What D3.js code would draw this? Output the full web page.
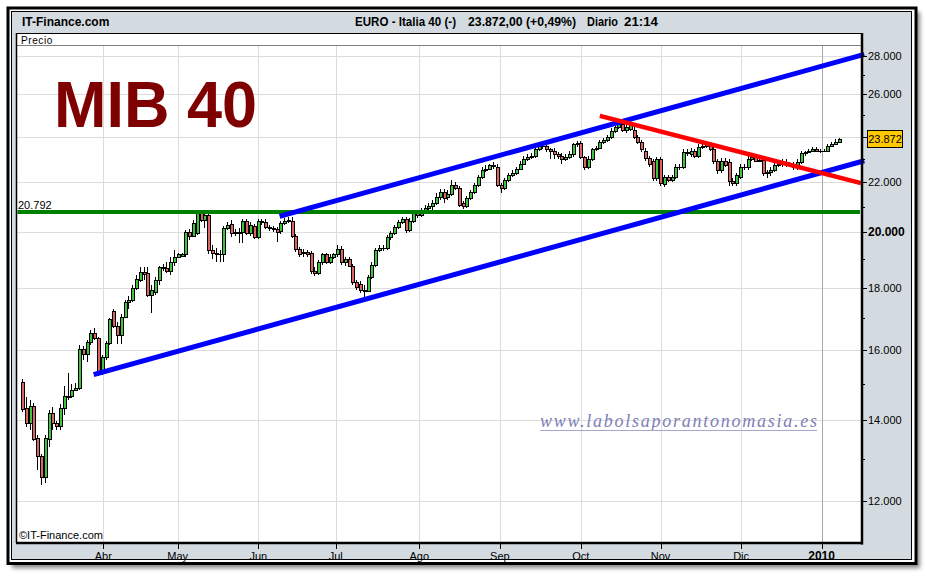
<!DOCTYPE html>
<html><head><meta charset="utf-8">
<script src="https://cdn.jsdelivr.net/npm/d3@7"></script>
<style>html,body{margin:0;padding:0;background:#fff;}svg{display:block;font-family:Arial,"Liberation Sans",sans-serif;}</style>
</head><body><svg id="c" width="926" height="576"></svg>
<script>
// ---------------- DATA ----------------
const opens = [15060,14320,13930,14380,13540,13060,12550,13490,14180,13910,
13830,14320,14660,14660,14830,14890,16010,15860,16230,16530,
16360,15350,15780,16200,17210,16750,16460,17040,17530,17600,
17980,18270,18560,18520,17760,17850,18270,18710,18700,18600,
18890,19100,19140,19180,20010,19860,19970,20770,20490,20690,
19360,19250,19210,19180,20170,20330,19970,20010,20000,20450,
19970,20250,19830,20450,20410,20210,20170,20130,20050,20370,
20450,20450,19860,19390,19250,19280,19250,18600,18520,18890,
19180,18920,19100,19180,19390,18890,19000,18780,18200,18130,
17920,17900,18380,18810,19360,19430,19420,19830,19970,20210,
20410,20530,20090,20450,20770,20690,20810,20970,21050,21170,
21410,21610,21410,21530,21890,21770,21170,21050,21370,21610,
21890,22230,22540,22580,22720,22670,21890,21770,22100,22320,
22410,22580,22800,22980,23070,23110,23420,23590,23570,23420,
23370,23200,23150,22980,23070,23200,23640,23720,23070,22670,
22980,23420,23500,23770,23860,23990,24270,24460,24560,24320,
24370,24320,23990,23770,23370,23020,22890,22190,22980,21930,
22230,22100,22230,22630,22670,23290,23200,23370,23110,23550,
23590,23680,23460,22890,22500,22930,22850,22060,21970,22230,
22670,22650,22980,23070,22930,22950,22410,22450,22540,22720,
22760,22850,22760,22720,22630,22850,23240,23290,23370,23460,
23370,23330,23360,23590,23680,23756];
const highs = [15120,14630,14550,14460,13610,13110,13610,14260,14350,13980,
14430,14920,15320,14980,15010,16140,16100,16300,16620,16660,
16400,15830,16270,17010,17300,16880,17110,17600,17720,18090,
18450,18710,18710,18740,18090,18380,18780,18850,18890,19070,
19360,19250,19250,20090,20130,20490,20850,20850,20770,20770,
19540,19430,19360,20250,20410,20490,20130,20170,20530,20530,
20410,20330,20530,20530,20530,20290,20250,20210,20450,20570,
20610,20610,19940,19470,19390,19360,19320,18710,18960,19250,
19250,19180,19250,19540,19500,19070,19070,18850,18270,18240,
18090,18450,18920,19430,19540,19540,19900,20050,20290,20490,
20610,20610,20570,20850,20890,20970,21090,21170,21290,21570,
21730,21730,21690,22100,22010,21850,21250,21450,21690,21970,
22320,22630,22720,22800,22850,22760,21970,22190,22410,22500,
22670,22890,23110,23200,23240,23500,23720,23720,23680,23500,
23500,23290,23240,23200,23330,23720,23810,23810,23150,23110,
23500,23590,23860,23940,24080,24410,24600,24700,24700,24600,
24650,24510,24080,23860,23500,23110,22980,23070,23070,22320,
22320,22320,22760,22800,23420,23460,23500,23460,23640,23680,
23810,23770,23550,22980,23020,23020,22980,22190,22410,22760,
22800,23110,23200,23150,23110,23110,22540,22630,22850,22850,
22980,22980,22850,22850,22980,23370,23370,23460,23550,23550,
23460,23460,23680,23770,23900,23950];
const lows = [14210,13810,13730,13440,12740,12370,12420,13310,13730,13730,
13730,14120,14550,14610,14780,14830,15690,15630,16140,16300,
15210,15260,15690,16140,16660,16170,16170,16980,17300,17530,
17920,18200,18270,17690,17170,17760,18090,18600,18520,18450,
18780,19070,19070,19070,19720,19830,19900,20410,20170,19180,
19000,18920,18920,18920,20090,19830,19860,19610,19610,19900,
19860,19750,19750,20290,20130,20050,20010,19650,19940,20290,
20370,19790,19280,19070,19070,19100,18490,18420,18450,18810,
18850,18850,19030,19100,18810,18780,18710,18090,17920,17820,
17690,17850,18310,18740,19280,19320,19360,19720,19900,20130,
20330,19970,20010,20370,20570,20610,20730,20810,20890,21090,
21290,21170,21290,21450,21690,21010,20930,20970,21290,21530,
21810,22150,22450,22540,22580,21810,21570,21690,22010,22230,
22320,22500,22720,22890,22980,23020,23330,23460,23290,22980,
22980,22980,22800,22890,22980,23070,23550,22980,22540,22580,
22890,23330,23420,23680,23770,23900,24180,24370,24220,24180,
24270,23900,23640,23290,22930,22630,22060,22060,21850,21810,
22010,22010,22150,22540,22580,23150,23070,23020,23020,23460,
23500,23370,22760,22360,22410,22630,21850,21850,21850,22150,
22540,22540,22890,22850,22850,22280,22190,22280,22450,22630,
22670,22670,22630,22500,22540,22760,23150,23240,23330,23290,
23240,23290,23290,23550,23640,23770];
const closes = [14290,13930,14380,13490,13060,12550,13540,14180,13910,13830,
14320,14660,14630,14830,14890,16010,15860,16230,16530,16360,
15350,15780,16200,16950,16750,16460,17040,17530,17600,17980,
18310,18560,18490,17760,17920,18270,18710,18690,18600,18890,
19100,19180,19180,20010,19860,20370,20770,20490,20690,19360,
19250,19210,19180,20170,20290,19970,20010,19990,20450,19970,
20290,19830,20450,20410,20210,20170,20130,20010,20370,20450,
20490,19860,19390,19210,19280,19210,18600,18520,18890,19180,
18920,19100,19180,19390,18890,19000,18780,18200,18020,17920,
17900,18380,18810,19360,19430,19420,19830,19970,20210,20410,
20530,20090,20450,20770,20690,20810,20970,21050,21170,21410,
21610,21370,21530,21890,21770,21090,21050,21370,21610,21890,
22230,22540,22580,22720,22700,21890,21770,22100,22320,22410,
22580,22800,22980,23070,23110,23420,23590,23570,23420,23370,
23200,23150,22980,23070,23200,23640,23720,23070,22670,22980,
23420,23500,23770,23860,23990,24270,24460,24560,24320,24460,
24510,23990,23770,23420,23020,22760,22190,22980,21970,22230,
22100,22230,22630,22670,23290,23270,23370,23110,23550,23590,
23680,23460,22890,22500,22930,22720,22060,21970,22320,22670,
22650,22980,23070,22930,22950,22410,22450,22540,22720,22760,
22850,22760,22720,22630,22850,23240,23290,23370,23460,23370,
23330,23360,23590,23680,23756,23872];

const priceTicks = [12000,14000,16000,18000,20000,22000,24000,26000,28000];
const minorPriceTicks = [13000,15000,17000,19000,21000,23000,25000,27000];
const boldPriceTick = 20000;
const monthLabels = ['Abr','May','Jun','Jul','Ago','Sep','Oct','Nov','Dic','2010'];
const monthIdx = [21.4,41.0,62.2,82.6,104.6,125.8,147.1,168.1,189.3,210.5];
const supportLevel = 20792;
const supportIdx = [-1.4, 220.6];
const lowerChannel = [[19.5,15280],[221.1,22890]];
const upperChannel = [[68.45,20650],[221.1,28020]];
const redTrend = [[152.7,24940],[220.3,21990]];
const instrument = 'EURO - Italia 40 (-)';
const period = 'Diario';
const timeLabel = '21:14';
const titleText = 'MIB 40';
const watermark = 'www.labolsaporantonomasia.es';

// ---------------- DRAW ----------------
const svg = d3.select('#c');
const loc = d3.formatLocale({decimal:',', thousands:'.', grouping:[3], currency:['','']});
const fmtInt = loc.format(',.0f');
const fmt2 = loc.format(',.2f');
const fmtPct = loc.format('+.2f');
const N = closes.length;
const last = closes[N-1], prev = closes[N-2];

const P = {l:16.5, r:862, t:46, b:543};
const x = d3.scaleLinear().domain([0, N-1]).range([22, 838.7]);
const y = d3.scaleLog().domain([12000, 28000]).range([501, 55.5]);

const defs = svg.append('defs');
const f = defs.append('filter').attr('id','sh').attr('x','-5%').attr('y','-5%').attr('width','110%').attr('height','110%');
f.append('feGaussianBlur').attr('stdDeviation',2);
const cp = defs.append('clipPath').attr('id','plotclip');
cp.append('rect').attr('x',P.l).attr('y',P.t).attr('width',P.r-P.l).attr('height',P.b-P.t);

// frame
svg.append('rect').attr('x',12).attr('y',12).attr('width',908).attr('height',556).attr('fill','#555').attr('opacity',0.7).attr('filter','url(#sh)');
svg.append('rect').attr('x',8).attr('y',8).attr('width',908).attr('height',555.5).attr('fill','#fff').attr('stroke','#000').attr('stroke-width',3);
svg.append('rect').attr('x',11.5).attr('y',11.5).attr('width',900).attr('height',548).attr('fill','#d4dbe0').attr('stroke','#000').attr('stroke-width',1);

// header
svg.append('text').attr('x',22).attr('y',26).attr('font-size',12).attr('font-weight','bold').text('IT-Finance.com');
const hdr = [[instrument,355,101],[fmt2(last)+' ('+fmtPct((last/prev-1)*100)+'%)',468,108],[period,587,31],[timeLabel,624,34]];
hdr.forEach(h=>svg.append('text').attr('x',h[1]).attr('y',26).attr('font-size',12).attr('font-weight','bold')
  .attr('textLength',h[2]).attr('lengthAdjust','spacingAndGlyphs').text(h[0]));

// Precio box + plot bg
svg.append('rect').attr('x',P.l).attr('y',33.5).attr('width',P.r-P.l).attr('height',P.t-33.5).attr('fill','#fff').attr('stroke','#000').attr('stroke-width',1);
svg.append('text').attr('x',21).attr('y',43.5).attr('font-size',10).attr('letter-spacing',0.6).text('Precio');
svg.append('rect').attr('x',P.l).attr('y',P.t).attr('width',P.r-P.l).attr('height',P.b-P.t).attr('fill','#fff');

// grid
const grid = svg.append('g').attr('shape-rendering','crispEdges');
grid.selectAll('line.h').data(priceTicks).join('line')
  .attr('x1',P.l).attr('x2',P.r).attr('y1',d=>Math.round(y(d))+0.5).attr('y2',d=>Math.round(y(d))+0.5)
  .attr('stroke','#dcdcdc').attr('stroke-width',1);
grid.selectAll('line.v').data(monthIdx).join('line')
  .attr('x1',d=>Math.round(x(d))+0.5).attr('x2',d=>Math.round(x(d))+0.5).attr('y1',P.t).attr('y2',P.b)
  .attr('stroke',(d,i)=>i===monthIdx.length-1?'#a8a8a8':'#dcdcdc').attr('stroke-width',1);

// title
svg.append('text').attr('x',54).attr('y',127).attr('font-size',64).attr('font-weight','bold')
  .attr('fill','#7f0000').attr('textLength',203).attr('lengthAdjust','spacingAndGlyphs').text(titleText);

// watermark
svg.append('text').attr('x',540).attr('y',427).attr('font-family','"Liberation Serif","DejaVu Serif",serif').attr('font-style','italic')
  .attr('font-size',18).attr('fill','#7c80b6').attr('textLength',277).attr('lengthAdjust','spacing').text(watermark);
svg.append('line').attr('x1',540).attr('x2',817).attr('y1',430.5).attr('y2',430.5).attr('stroke','#a4a7d0').attr('stroke-width',1);

// candles
const cg = svg.append('g').attr('shape-rendering','crispEdges').attr('clip-path','url(#plotclip)');
const idx = d3.range(N);
cg.selectAll('rect.w').data(idx).join('rect')
  .attr('x',i=>Math.round(x(i))).attr('width',1)
  .attr('y',i=>Math.round(y(highs[i]))).attr('height',i=>Math.max(1,Math.round(y(lows[i]))-Math.round(y(highs[i]))))
  .attr('fill','#000');
const bodyTop = i=>Math.round(y(Math.max(opens[i],closes[i])));
const bodyBot = i=>Math.round(y(Math.min(opens[i],closes[i])));
cg.selectAll('rect.b').data(idx).join('rect')
  .attr('x',i=>Math.round(x(i))-1).attr('width',4)
  .attr('y',bodyTop).attr('height',i=>Math.max(1,bodyBot(i)-bodyTop(i)+1))
  .attr('fill','#000');
cg.selectAll('rect.f').data(idx.filter(i=>bodyBot(i)-bodyTop(i)>=2)).join('rect')
  .attr('x',i=>Math.round(x(i))).attr('width',2)
  .attr('y',i=>bodyTop(i)+1).attr('height',i=>bodyBot(i)-bodyTop(i)-1)
  .attr('fill',i=>closes[i]>=opens[i]?'#3fc43f':'#dc6464');

// support line
svg.append('line').attr('x1',P.l+1).attr('x2',x(supportIdx[1])).attr('y1',y(supportLevel)).attr('y2',y(supportLevel))
  .attr('stroke','#008000').attr('stroke-width',4);
svg.append('text').attr('x',18).attr('y',y(supportLevel)-3).attr('font-size',11).text(fmtInt(supportLevel));

// trend lines
const tl = (pts,col,w)=>svg.append('line').attr('x1',x(pts[0][0])).attr('y1',y(pts[0][1])).attr('x2',x(pts[1][0])).attr('y2',y(pts[1][1]))
  .attr('stroke',col).attr('stroke-width',w).attr('stroke-linecap','square');
tl(lowerChannel,'#0000ff',5);
tl(upperChannel,'#0000ff',5);
tl(redTrend,'#ff0000',4.5);

// copyright
svg.append('text').attr('x',19).attr('y',539).attr('font-size',11).text('\u00a9IT-Finance.com');

// borders
const bd = svg.append('g').attr('stroke','#000');
bd.append('line').attr('x1',P.l).attr('x2',P.l).attr('y1',33).attr('y2',P.b).attr('stroke-width',1.5);
bd.append('line').attr('x1',P.r).attr('x2',P.r).attr('y1',33).attr('y2',P.b+1.5).attr('stroke-width',2.5);
bd.append('line').attr('x1',P.l-0.5).attr('x2',P.r+1).attr('y1',P.b).attr('y2',P.b).attr('stroke-width',2.5);

// y axis
const ly = y(last);
const ya = svg.append('g').attr('shape-rendering','crispEdges');
ya.selectAll('line.mj').data(priceTicks).join('line')
  .attr('x1',P.r+1).attr('x2',P.r+5).attr('y1',d=>Math.round(y(d))+0.5).attr('y2',d=>Math.round(y(d))+0.5).attr('stroke','#000');
ya.selectAll('line.mn').data(minorPriceTicks).join('line')
  .attr('x1',P.r+1).attr('x2',P.r+3).attr('y1',d=>Math.round(y(d))+0.5).attr('y2',d=>Math.round(y(d))+0.5).attr('stroke','#000');
// labels hidden behind the last-price box are not drawn (as in the reference)
svg.selectAll('text.yl').data(priceTicks.filter(d=>Math.abs(y(d)-ly)>12)).join('text')
  .attr('x',868).attr('y',d=>y(d)+4)
  .attr('font-size',d=>d===boldPriceTick?12:11).attr('font-weight',d=>d===boldPriceTick?'bold':'normal')
  .text(d=>fmtInt(d));
// last price box
svg.append('rect').attr('x',867.5).attr('y',Math.round(ly)-8.5).attr('width',35).attr('height',17).attr('fill','#ffc800').attr('stroke','#000');
svg.append('text').attr('x',885).attr('y',ly+4).attr('text-anchor','middle').attr('font-size',11).text(fmtInt(last));

// x axis
svg.selectAll('line.xt').data(monthIdx).join('line')
  .attr('x1',d=>Math.round(x(d))+0.5).attr('x2',d=>Math.round(x(d))+0.5).attr('y1',P.b+1).attr('y2',P.b+6)
  .attr('stroke','#000').attr('shape-rendering','crispEdges');
svg.selectAll('text.xl').data(monthLabels).join('text')
  .attr('x',(d,i)=>x(monthIdx[i])).attr('y',560).attr('text-anchor','middle')
  .attr('font-size',(d,i)=>i===monthLabels.length-1?12:11).attr('font-weight',(d,i)=>i===monthLabels.length-1?'bold':'normal')
  .text(d=>d);
</script></body></html>
